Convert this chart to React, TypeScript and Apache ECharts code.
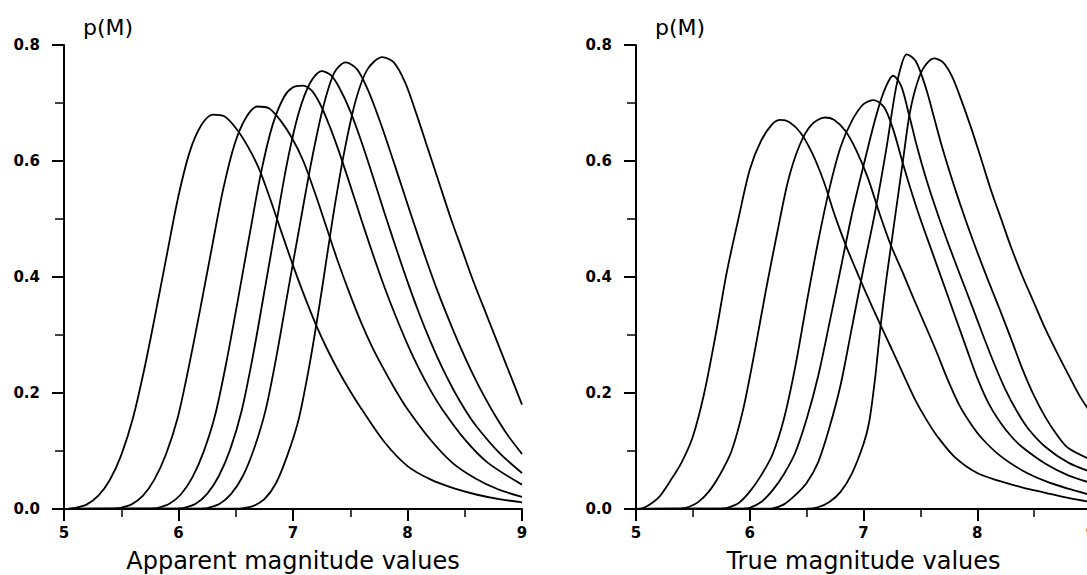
import React, { useEffect, useRef } from "react";
import * as echarts from "echarts";

// Apparent magnitude panel (left): six curves as [magnitude, p(M)]
const apparent1 = [[5.0,0],[5.1,0.002],[5.2,0.008],[5.3,0.023],[5.4,0.05],[5.5,0.093],[5.6,0.155],[5.7,0.24],[5.8,0.338],[5.9,0.44],[6.0,0.54],[6.1,0.617],[6.2,0.662],[6.3,0.68],[6.4,0.677],[6.5,0.657],[6.6,0.627],[6.7,0.588],[6.8,0.535],[6.9,0.477],[7.0,0.42],[7.1,0.367],[7.2,0.318],[7.3,0.275],[7.4,0.237],[7.5,0.203],[7.6,0.172],[7.8,0.115],[8.0,0.074],[8.2,0.051],[8.4,0.036],[8.6,0.025],[8.8,0.017],[9.0,0.0115]];
const apparent2 = [[5.0,0],[5.44,0.001],[5.49,0.002],[5.59,0.008],[5.69,0.023],[5.79,0.051],[5.89,0.094],[5.99,0.155],[6.09,0.245],[6.19,0.345],[6.29,0.449],[6.39,0.551],[6.49,0.629],[6.59,0.675],[6.69,0.694],[6.79,0.691],[6.89,0.67],[6.99,0.64],[7.09,0.6],[7.19,0.546],[7.29,0.487],[7.39,0.428],[7.49,0.374],[7.59,0.324],[7.69,0.28],[7.79,0.242],[7.89,0.207],[7.99,0.175],[8.19,0.122],[8.39,0.08],[8.59,0.053],[8.79,0.034],[9.0,0.021]];
const apparent3 = [[5.0,0],[5.77,0.001],[5.82,0.002],[5.92,0.009],[6.02,0.025],[6.12,0.054],[6.22,0.099],[6.32,0.162],[6.42,0.255],[6.52,0.362],[6.62,0.472],[6.72,0.579],[6.82,0.661],[6.92,0.71],[7.0,0.727],[7.08,0.73],[7.16,0.722],[7.24,0.697],[7.32,0.66],[7.4,0.617],[7.5,0.558],[7.6,0.497],[7.7,0.438],[7.8,0.382],[7.9,0.331],[8.0,0.284],[8.1,0.242],[8.2,0.205],[8.3,0.173],[8.5,0.12],[8.7,0.08],[9.0,0.042]];
const apparent4 = [[5.0,0],[6.0,0.001],[6.05,0.002],[6.15,0.009],[6.25,0.026],[6.35,0.056],[6.45,0.102],[6.55,0.168],[6.65,0.264],[6.75,0.375],[6.85,0.488],[6.95,0.598],[7.05,0.683],[7.15,0.735],[7.25,0.755],[7.33,0.748],[7.4,0.728],[7.5,0.686],[7.6,0.632],[7.7,0.572],[7.8,0.51],[7.9,0.45],[8.0,0.392],[8.1,0.338],[8.2,0.289],[8.3,0.245],[8.4,0.206],[8.5,0.172],[8.6,0.143],[8.8,0.097],[9.0,0.062]];
const apparent5 = [[5.0,0],[6.21,0.001],[6.26,0.002],[6.36,0.009],[6.46,0.026],[6.56,0.056],[6.66,0.104],[6.76,0.17],[6.86,0.268],[6.96,0.38],[7.06,0.49],[7.16,0.598],[7.26,0.69],[7.36,0.752],[7.46,0.77],[7.56,0.758],[7.66,0.72],[7.76,0.668],[7.86,0.61],[7.96,0.55],[8.06,0.49],[8.16,0.432],[8.26,0.377],[8.36,0.327],[8.46,0.28],[8.56,0.237],[8.66,0.198],[8.76,0.163],[8.88,0.126],[9.0,0.095]];
const apparent6 = [[5.0,0],[6.5,0.0005],[6.55,0.001],[6.65,0.005],[6.75,0.017],[6.85,0.044],[6.95,0.092],[7.05,0.155],[7.15,0.255],[7.25,0.375],[7.35,0.505],[7.45,0.618],[7.55,0.706],[7.65,0.758],[7.78,0.779],[7.88,0.77],[7.98,0.735],[8.08,0.68],[8.18,0.62],[8.28,0.56],[8.38,0.5],[8.48,0.445],[8.58,0.39],[8.68,0.34],[8.78,0.29],[8.88,0.24],[9.0,0.18]];

// True magnitude panel (right): six curves
const true1 = [[5.0,0],[5.05,0.001],[5.1,0.005],[5.2,0.02],[5.3,0.048],[5.4,0.08],[5.5,0.125],[5.6,0.2],[5.7,0.3],[5.8,0.41],[5.9,0.5],[6.0,0.585],[6.1,0.635],[6.2,0.664],[6.27,0.671],[6.35,0.667],[6.45,0.648],[6.55,0.613],[6.65,0.565],[6.75,0.505],[6.85,0.452],[6.95,0.405],[7.05,0.36],[7.15,0.317],[7.25,0.275],[7.35,0.232],[7.45,0.19],[7.55,0.155],[7.65,0.125],[7.8,0.09],[8.0,0.062],[8.2,0.048],[8.4,0.037],[8.6,0.028],[8.8,0.019],[9.0,0.012]];
const true2 = [[5.0,0],[5.4,0.001],[5.44,0.002],[5.54,0.011],[5.64,0.03],[5.74,0.06],[5.84,0.1],[5.94,0.17],[6.04,0.268],[6.14,0.375],[6.24,0.475],[6.34,0.568],[6.44,0.628],[6.54,0.662],[6.66,0.675],[6.74,0.671],[6.84,0.652],[6.94,0.617],[7.04,0.57],[7.14,0.51],[7.24,0.455],[7.34,0.41],[7.44,0.363],[7.54,0.318],[7.64,0.272],[7.74,0.223],[7.84,0.18],[7.94,0.148],[8.04,0.122],[8.2,0.092],[8.4,0.066],[8.6,0.048],[8.8,0.035],[9.0,0.024]];
const true3 = [[5.0,0],[5.75,0.001],[5.8,0.002],[5.9,0.01],[6.0,0.03],[6.1,0.058],[6.2,0.094],[6.3,0.155],[6.4,0.245],[6.5,0.355],[6.6,0.46],[6.7,0.552],[6.8,0.625],[6.9,0.67],[7.0,0.698],[7.09,0.705],[7.18,0.693],[7.26,0.655],[7.34,0.6],[7.42,0.548],[7.5,0.5],[7.6,0.445],[7.7,0.39],[7.8,0.335],[7.9,0.28],[8.0,0.226],[8.1,0.182],[8.2,0.15],[8.3,0.125],[8.4,0.106],[8.6,0.078],[8.8,0.058],[9.0,0.045]];
const true4 = [[5.0,0],[5.95,0.001],[6.0,0.002],[6.1,0.012],[6.2,0.032],[6.3,0.06],[6.4,0.097],[6.5,0.155],[6.6,0.228],[6.7,0.32],[6.8,0.415],[6.9,0.51],[7.0,0.592],[7.1,0.67],[7.18,0.72],[7.26,0.747],[7.33,0.73],[7.4,0.68],[7.47,0.625],[7.55,0.57],[7.65,0.51],[7.75,0.455],[7.85,0.403],[7.95,0.352],[8.05,0.3],[8.15,0.25],[8.25,0.205],[8.35,0.168],[8.45,0.138],[8.6,0.107],[8.8,0.08],[9.0,0.064]];
const true5 = [[5.0,0],[6.15,0.0005],[6.2,0.001],[6.3,0.008],[6.4,0.024],[6.5,0.045],[6.6,0.08],[6.7,0.14],[6.8,0.215],[6.9,0.315],[7.0,0.415],[7.1,0.51],[7.2,0.62],[7.28,0.72],[7.34,0.77],[7.38,0.784],[7.46,0.772],[7.55,0.725],[7.62,0.675],[7.7,0.618],[7.8,0.555],[7.9,0.497],[8.0,0.443],[8.1,0.392],[8.2,0.343],[8.3,0.292],[8.4,0.24],[8.5,0.195],[8.6,0.158],[8.7,0.128],[8.8,0.105],[9.0,0.085]];
const true6 = [[5.0,0],[6.5,0.0005],[6.6,0.003],[6.7,0.012],[6.8,0.03],[6.9,0.062],[7.0,0.112],[7.05,0.15],[7.1,0.222],[7.15,0.315],[7.2,0.395],[7.25,0.465],[7.3,0.535],[7.35,0.605],[7.4,0.675],[7.45,0.72],[7.52,0.758],[7.62,0.777],[7.7,0.77],[7.78,0.745],[7.86,0.705],[7.95,0.655],[8.04,0.6],[8.12,0.55],[8.21,0.5],[8.3,0.45],[8.4,0.4],[8.5,0.355],[8.6,0.31],[8.7,0.27],[8.8,0.232],[8.9,0.195],[9.0,0.165]];

const leftCurves = [apparent1, apparent2, apparent3, apparent4, apparent5, apparent6];
const rightCurves = [true1, true2, true3, true4, true5, true6];

const xTitles = ["Apparent magnitude values", "True magnitude values"];
const yTitle = "p(M)";

const BLACK = "#000";
const tickFont = "DejaVu Sans";
const titleFont = "DejaVu Sans";

function xAxisFor(i: number, name: string) {
  return {
    type: "value",
    gridIndex: i,
    min: 5,
    max: 9,
    interval: 1,
    axisLine: { show: true, onZero: false, lineStyle: { color: BLACK, width: 2 } },
    axisTick: { show: true, length: 12, lineStyle: { color: BLACK, width: 2 } },
    minorTick: { show: true, splitNumber: 2, length: 8, lineStyle: { color: BLACK, width: 1.5 } },
    splitLine: { show: false },
    minorSplitLine: { show: false },
    axisLabel: {
      show: true,
      color: BLACK,
      fontSize: 15,
      fontWeight: "bold",
      fontFamily: tickFont,
      margin: 16,
      formatter: (v: number) => String(Math.round(v)),
    },
    name,
    nameLocation: "middle",
    nameGap: 40,
    nameTextStyle: { color: BLACK, fontSize: 24, fontFamily: titleFont },
  };
}

function yAxisFor(i: number) {
  return {
    type: "value",
    gridIndex: i,
    min: 0,
    max: 0.8,
    interval: 0.2,
    axisLine: { show: true, onZero: false, lineStyle: { color: BLACK, width: 2 } },
    axisTick: { show: true, length: 12, lineStyle: { color: BLACK, width: 2 } },
    minorTick: { show: true, splitNumber: 2, length: 9, lineStyle: { color: BLACK, width: 1.5 } },
    splitLine: { show: false },
    minorSplitLine: { show: false },
    axisLabel: {
      show: true,
      color: BLACK,
      fontSize: 15,
      fontWeight: "bold",
      fontFamily: tickFont,
      margin: 24,
      formatter: (v: number) => v.toFixed(1),
    },
  };
}

function curveSeries(data: number[][], idx: number) {
  return {
    type: "line",
    xAxisIndex: idx,
    yAxisIndex: idx,
    data,
    smooth: 0.3,
    showSymbol: false,
    symbol: "none",
    clip: true,
    lineStyle: { color: BLACK, width: 1.8 },
    silent: true,
  };
}

export default function App() {
  const ref = useRef<HTMLDivElement>(null);
  useEffect(() => {
    if (!ref.current) return;
    const chart = echarts.init(ref.current, undefined, { renderer: "svg" });
    chart.setOption({
      animation: false,
      backgroundColor: "#fff",
      grid: [
        { left: 64, top: 45, width: 458, height: 464, containLabel: false, outerBoundsMode: "none" },
        { left: 636, top: 45, width: 455, height: 464, containLabel: false, outerBoundsMode: "none" },
      ],
      xAxis: [xAxisFor(0, xTitles[0]), xAxisFor(1, xTitles[1])],
      yAxis: [yAxisFor(0), yAxisFor(1)],
      graphic: [
        { type: "text", left: 83, top: 16, style: { text: yTitle, fontSize: 22, fontFamily: titleFont, fill: BLACK } },
        { type: "text", left: 655, top: 16, style: { text: yTitle, fontSize: 22, fontFamily: titleFont, fill: BLACK } },
      ],
      series: [
        ...leftCurves.map((d) => curveSeries(d, 0)),
        ...rightCurves.map((d) => curveSeries(d, 1)),
      ],
    });
    return () => chart.dispose();
  }, []);
  return (
    <div style={{ position: "fixed", left: 0, top: 0, width: 1087, height: 575, overflow: "hidden", background: "#fff" }}>
      <div ref={ref} style={{ width: 1100, height: 575 }} />
    </div>
  );
}
